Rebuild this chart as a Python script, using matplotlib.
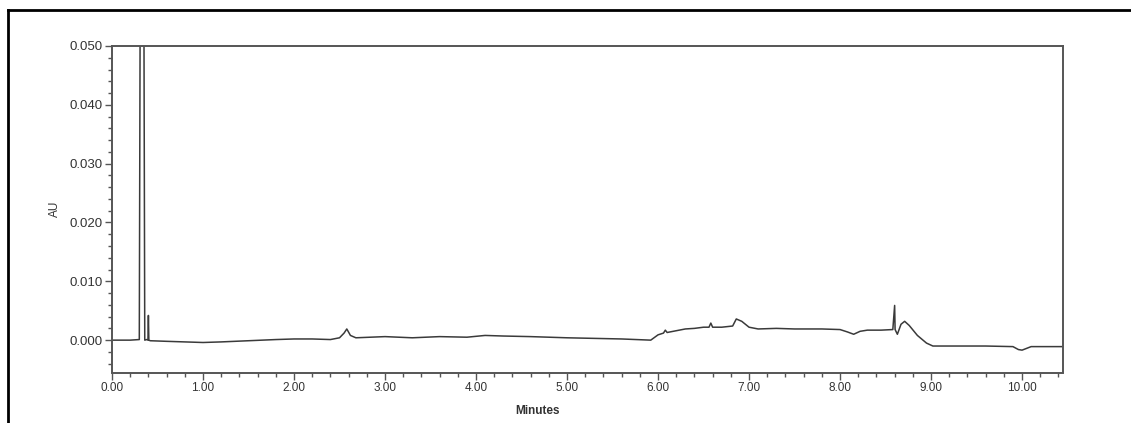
import matplotlib
matplotlib.use("Agg")
import matplotlib.pyplot as plt
from matplotlib.ticker import MultipleLocator, FixedLocator
from matplotlib.lines import Line2D

# Chromatogram trace (minutes, AU)
minutes = [0.00, 0.20, 0.30, 0.31, 0.33, 0.35, 0.36, 0.38, 0.395, 0.40, 0.405, 0.42,
           0.60, 0.80, 1.00, 1.20, 1.50, 1.80, 2.00, 2.20, 2.40, 2.50, 2.55, 2.58, 2.62, 2.68, 3.00,
           3.30, 3.60, 3.90, 4.10, 4.30, 4.60, 5.00, 5.30, 5.60, 5.92, 6.00, 6.06, 6.08, 6.10, 6.20, 6.30,
           6.40, 6.50, 6.56, 6.58, 6.60, 6.70, 6.82, 6.86, 6.92, 7.00, 7.10, 7.30, 7.50,
           7.80, 8.00, 8.08, 8.15, 8.22, 8.30, 8.45, 8.58, 8.60, 8.605, 8.63, 8.67, 8.71,
           8.76, 8.85, 8.95, 9.02, 9.30, 9.60, 9.90, 9.96, 10.00, 10.05, 10.10, 10.30, 10.45]
au = [0.0000, 0.0000, 0.0001, 0.0600, 0.2000, 0.0600, 0.0000, 0.0001, 0.0000, 0.0042, 0.0000, -0.0001,
      -0.0002, -0.0003, -0.0004, -0.0003, -0.0001, 0.0001, 0.0002, 0.0002, 0.0001, 0.0004, 0.0012, 0.0019, 0.0008, 0.0004, 0.0006,
      0.0004, 0.0006, 0.0005, 0.0008, 0.0007, 0.0006, 0.0004, 0.0003, 0.0002, 0.0000, 0.0009, 0.0012, 0.0017, 0.0013, 0.0016, 0.0019,
      0.0020, 0.0022, 0.0022, 0.0029, 0.0022, 0.0022, 0.0024, 0.0036, 0.0032, 0.0022, 0.0019, 0.0020, 0.0019,
      0.0019, 0.0018, 0.0014, 0.0010, 0.0015, 0.0017, 0.0017, 0.0018, 0.0059, 0.0018, 0.0010, 0.0027, 0.0032,
      0.0025, 0.0008, -0.0005, -0.0010, -0.0010, -0.0010, -0.0011, -0.0016, -0.0017, -0.0014, -0.0011, -0.0011, -0.0011]

x_major = [0, 1, 2, 3, 4, 5, 6, 7, 8, 9, 10]
x_labels = ["0.00", "1.00", "2.00", "3.00", "4.00", "5.00", "6.00", "7.00", "8.00", "9.00", "10.00"]
y_major = [0.000, 0.010, 0.020, 0.030, 0.040, 0.050]
y_labels = ["0.000", "0.010", "0.020", "0.030", "0.040", "0.050"]

plt.rcParams['font.family'] = ['Liberation Sans', 'DejaVu Sans']

W, H = 1131, 423
fig = plt.figure(figsize=(W / 100, H / 100), dpi=100)
ax = fig.add_axes([112 / W, 1 - 372.5 / H, (1063 - 112) / W, (372.5 - 46) / H])

line_col = "#3a3a3a"
ax.plot(minutes, au, color=line_col, lw=1.1)
ax.set_xlim(0, 10.45)
ax.set_ylim(-0.0055, 0.050)

ax.xaxis.set_major_locator(FixedLocator(x_major))
ax.set_xticklabels(x_labels)
ax.xaxis.set_minor_locator(MultipleLocator(0.2))
ax.yaxis.set_major_locator(FixedLocator(y_major))
ax.set_yticklabels(y_labels)
ax.yaxis.set_minor_locator(MultipleLocator(0.002))

spine_col = "#555555"
for s in ax.spines.values():
    s.set_color(spine_col)
    s.set_linewidth(1.4)
ax.tick_params(axis="both", which="major", direction="out", length=5, width=1,
               color=spine_col, labelcolor="#333333", pad=2)
ax.tick_params(axis="x", which="major", labelsize=8.5)
ax.tick_params(axis="y", which="major", labelsize=9.5)
ax.tick_params(axis="both", which="minor", direction="out", length=3, width=1, color=spine_col)

ax.set_ylabel("AU", fontsize=8.5, color="#333333", labelpad=6)
ax.set_xlabel("Minutes", fontsize=8.5, fontweight="bold", color="#333333", labelpad=6)
ax.xaxis.set_label_coords((538 - 112) / (1063 - 112), -0.10)

# outer frame (top and left edges)
fig.add_artist(Line2D([8 / W, 1.0], [1 - 10 / H, 1 - 10 / H], color="black", lw=2,
                      transform=fig.transFigure))
fig.add_artist(Line2D([8 / W, 8 / W], [0.0, 1 - 10 / H], color="black", lw=2,
                      transform=fig.transFigure))

fig.savefig("out.png", dpi=100)
